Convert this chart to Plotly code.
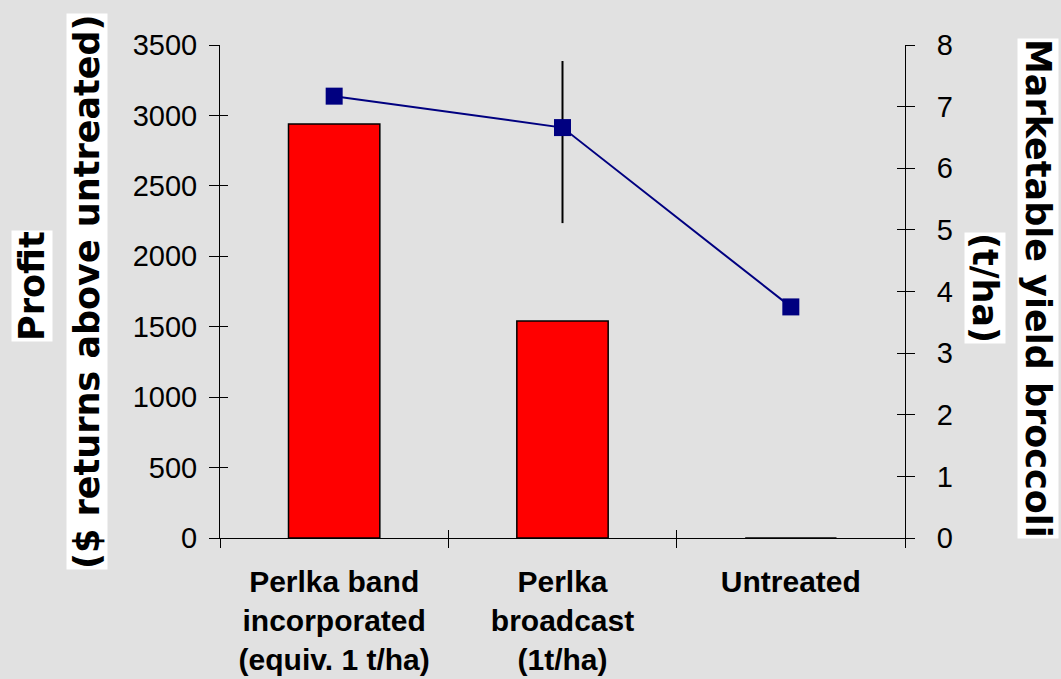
import plotly.graph_objects as go

categories = ["Perlka band<br>incorporated<br>(equiv. 1 t/ha)", "Perlka<br>broadcast<br>(1t/ha)", "Untreated"]
profit = [2940, 1540, 0]
yield_t = [7.17, 6.66, 3.75]
yield_err_plus = [None, 1.08, None]
yield_err_minus = [None, 1.55, None]

left_ticks = [0, 500, 1000, 1500, 2000, 2500, 3000, 3500]
right_ticks = [0, 1, 2, 3, 4, 5, 6, 7, 8]

W, H = 1061, 679
L, R, T, B = 220, 156, 45, 141
pw, ph = W - L - R, H - T - B

def px_x(p):
    return (p - L) / pw

def px_y(p):
    return (H - B - p) / ph

BG = "#e1e1e1"
tick_font = dict(family="Liberation Sans, Arial", size=29, color="black")

fig = go.Figure()
fig.add_trace(go.Bar(
    x=categories, y=profit, width=0.4,
    marker=dict(color="#ff0000", line=dict(color="black", width=1.5)),
    showlegend=False, hoverinfo="skip",
))
fig.add_trace(go.Scatter(
    x=categories, y=yield_t, yaxis="y2", mode="lines+markers",
    line=dict(color="#000080", width=2),
    marker=dict(symbol="square", size=17, color="#000080"),
    error_y=dict(type="data", symmetric=False, array=yield_err_plus,
                 arrayminus=yield_err_minus, color="black", thickness=2, width=0),
    showlegend=False, hoverinfo="skip",
))
# invisible helpers so that overlay tick axes get drawn
fig.add_trace(go.Scatter(x=[None], y=[None], xaxis="x2", yaxis="y3", showlegend=False, hoverinfo="skip"))
fig.add_trace(go.Scatter(x=[None], y=[None], xaxis="x2", yaxis="y4", showlegend=False, hoverinfo="skip"))

n = len(categories)
bounds = [i - 0.5 for i in range(n + 1)]

fig.update_layout(
    width=W, height=H, autosize=False,
    margin=dict(l=L, r=R, t=T, b=B, pad=0),
    paper_bgcolor=BG, plot_bgcolor=BG,
    xaxis=dict(
        type="category", range=[-0.5, n - 0.5], tickson="boundaries",
        ticks="outside", ticklen=9, tickcolor="black", tickwidth=1,
        showline=True, linecolor="black", linewidth=1,
        showgrid=False, zeroline=False, automargin=False,
        tickfont=dict(family="Liberation Sans, Arial", size=30, color="black", weight="bold"),
        ticklabelstandoff=17,
    ),
    xaxis2=dict(
        overlaying="x", anchor="y", range=[-0.5, n - 0.5], automargin=False,
        tickvals=bounds, ticks="inside", ticklen=8, tickcolor="black", tickwidth=1,
        showticklabels=False, showline=False, showgrid=False, zeroline=False,
    ),
    yaxis=dict(
        range=[0, 3500], tickvals=left_ticks, automargin=False,
        ticks="outside", ticklen=10, tickcolor="black", tickwidth=1,
        showline=True, linecolor="black", linewidth=1,
        showgrid=False, zeroline=False, tickfont=tick_font,
        ticklabelstandoff=6,
    ),
    yaxis2=dict(
        overlaying="y", side="right", anchor="x", range=[0, 8], tickvals=right_ticks,
        ticks="outside", ticklen=9, tickcolor="black", tickwidth=1, automargin=False,
        showline=True, linecolor="black", linewidth=1,
        showgrid=False, zeroline=False, tickfont=tick_font,
        ticklabelstandoff=16,
    ),
    yaxis3=dict(
        overlaying="y", side="left", anchor="x2", range=[0, 3500], tickvals=left_ticks,
        ticks="inside", ticklen=8, tickcolor="black", tickwidth=1, automargin=False,
        showticklabels=False, showline=False, showgrid=False, zeroline=False,
    ),
    yaxis4=dict(
        overlaying="y", side="right", anchor="x2", range=[0, 8], tickvals=right_ticks,
        ticks="inside", ticklen=8, tickcolor="black", tickwidth=1, automargin=False,
        showticklabels=False, showline=False, showgrid=False, zeroline=False,
    ),
)

title_font = dict(family="DejaVu Sans", size=35, color="black")
titles = [
    ("<b>Profit</b>", 32, 286, -90),
    ("<b>($ returns above untreated)</b>", 87, 292, -90),
    ("<b>(t/ha)</b>", 985, 288, 90),
    ("<b>Marketable yield broccoli</b>", 1038, 288, 90),
]
for text, cx, cy, ang in titles:
    fig.add_annotation(
        text=text, xref="paper", yref="paper", x=px_x(cx), y=px_y(cy),
        xanchor="center", yanchor="middle", textangle=ang, showarrow=False,
        font=title_font, bgcolor="white", borderpad=0,
    )

fig.write_html(
    "out.html",
    config={"displayModeBar": False},
    post_script="document.body.style.margin='0';document.body.style.overflow='hidden';",
)
